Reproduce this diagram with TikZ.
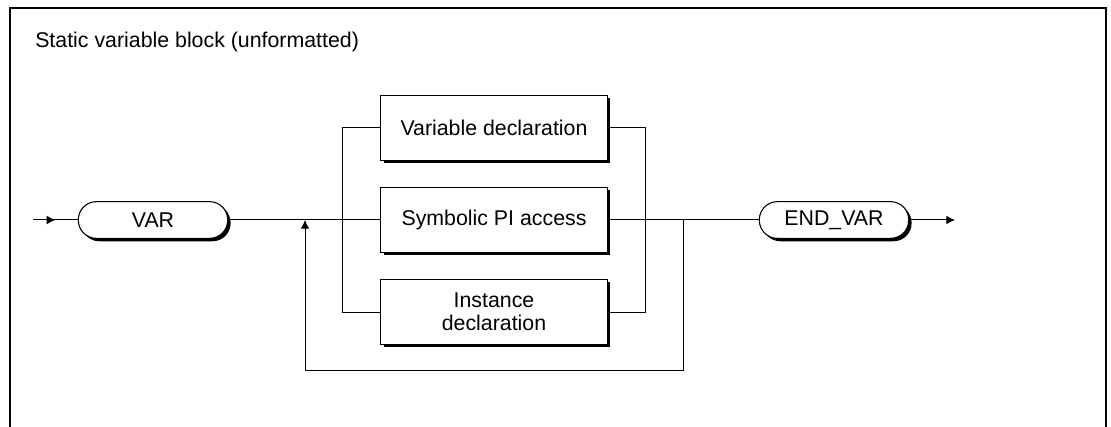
\documentclass[tikz,border=0pt]{standalone}
\usepackage{fontspec}
\setmainfont{Liberation Sans}
\usepackage{tikz}
\usetikzlibrary{positioning,calc,shadows,arrows.meta}

\begin{document}
\begin{tikzpicture}[x=0.75pt, y=-0.75pt, node distance=19.5pt, >={Latex[length=6.5pt,width=6.5pt]}, every node/.style={font=\fontsize{16}{19}\selectfont}]
  \tikzstyle{shd}=[drop shadow={shadow xshift=2.2pt, shadow yshift=-2.2pt, opacity=1, fill=black}]
  \tikzstyle{term}=[draw, line width=0.8pt, fill=white, rounded corners=13.5pt, minimum width=112pt, minimum height=27.5pt, shd]
  \tikzstyle{decl}=[draw, line width=0.8pt, fill=white, minimum width=170pt, minimum height=48.75pt, align=center, inner sep=1pt, shd]
  \tikzstyle{wire}=[line width=0.75pt]
  \useasboundingbox (0,0) rectangle (1111,427);
  \draw[line width=1.5pt] (10,440) |- (1106,8) -- (1106,440);
  \node[anchor=west, inner sep=0pt] (title) at (35,42) {Static variable block (unformatted)};
  \coordinate (in) at (33,220);
  \node[term] (var) at (153,220) {VAR};
  \node[decl] (pi) at (494,220) {Symbolic PI access};
  \node[decl, above=of pi] (vdecl) {Variable declaration};
  \node[decl, below=of pi] (inst) {Instance\\[-2pt]declaration};
  \node[term] (endvar) at (834,220) {END\_VAR};
  \coordinate (out) at (955,220);
  \coordinate (back) at (305,220);
  \coordinate (fork) at (683,220);
  % main path
  \draw[wire] (in) -- (var.west);
  \draw[wire, ->] (in) -- ($(in)!.5!(var.west)$);
  \draw[wire] (var.east) -- (pi.west);
  \draw[wire] (pi.east) -- (endvar.west);
  \draw[wire, ->] (endvar.east) -- (out);
  % branches
  \draw[wire] (vdecl.west) -- ++(-38,0) |- (inst.west);
  \draw[wire] (vdecl.east) -- ++(38,0) |- (inst.east);
  % repeat loop
  \draw[wire, ->] (fork) -- ++(0,151) -| (back);
\end{tikzpicture}
\end{document}
